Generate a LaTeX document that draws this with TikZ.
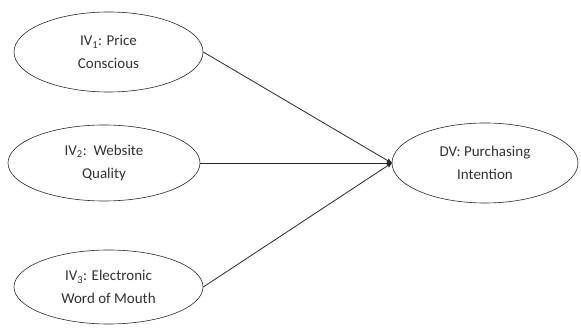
\documentclass[tikz,border=0pt]{standalone}
\usepackage{fontspec}
\setmainfont{Carlito}
\usetikzlibrary{arrows,shapes}
\definecolor{line_grey}{RGB}{40,40,40}
\definecolor{text_grey}{RGB}{50,50,50}
\begin{document}
\begin{tikzpicture}[x=1pt,y=-1pt,->,thick,>=stealth',line_grey]
    \tikzstyle{construct}=[draw=line_grey, semithick, ellipse, inner sep=0pt, align=center, text=text_grey, font=\fontsize{15}{22.5}\selectfont]
    \useasboundingbox (0,0) rectangle (581,328);

    \node[construct,minimum width=189,minimum height=80] (iv1) at (108.5,52)  {IV\textsubscript{1}: Price\\Conscious};
    \node[construct,minimum width=192,minimum height=76] (iv2) at (104,163)   {IV\textsubscript{2}:\ \ Website\\Quality};
    \node[construct,minimum width=189,minimum height=74] (iv3) at (108.5,287) {IV\textsubscript{3}: Electronic\\Word of Mouth};
    \node[construct,minimum width=186,minimum height=80] (dv)  at (485,163)   {DV: Purchasing\\Intention};

    \path
     (iv1.east) edge (dv.west)
     (iv2.east) edge (dv.west)
     (iv3.east) edge (dv.west);
  \end{tikzpicture}
\end{document}
